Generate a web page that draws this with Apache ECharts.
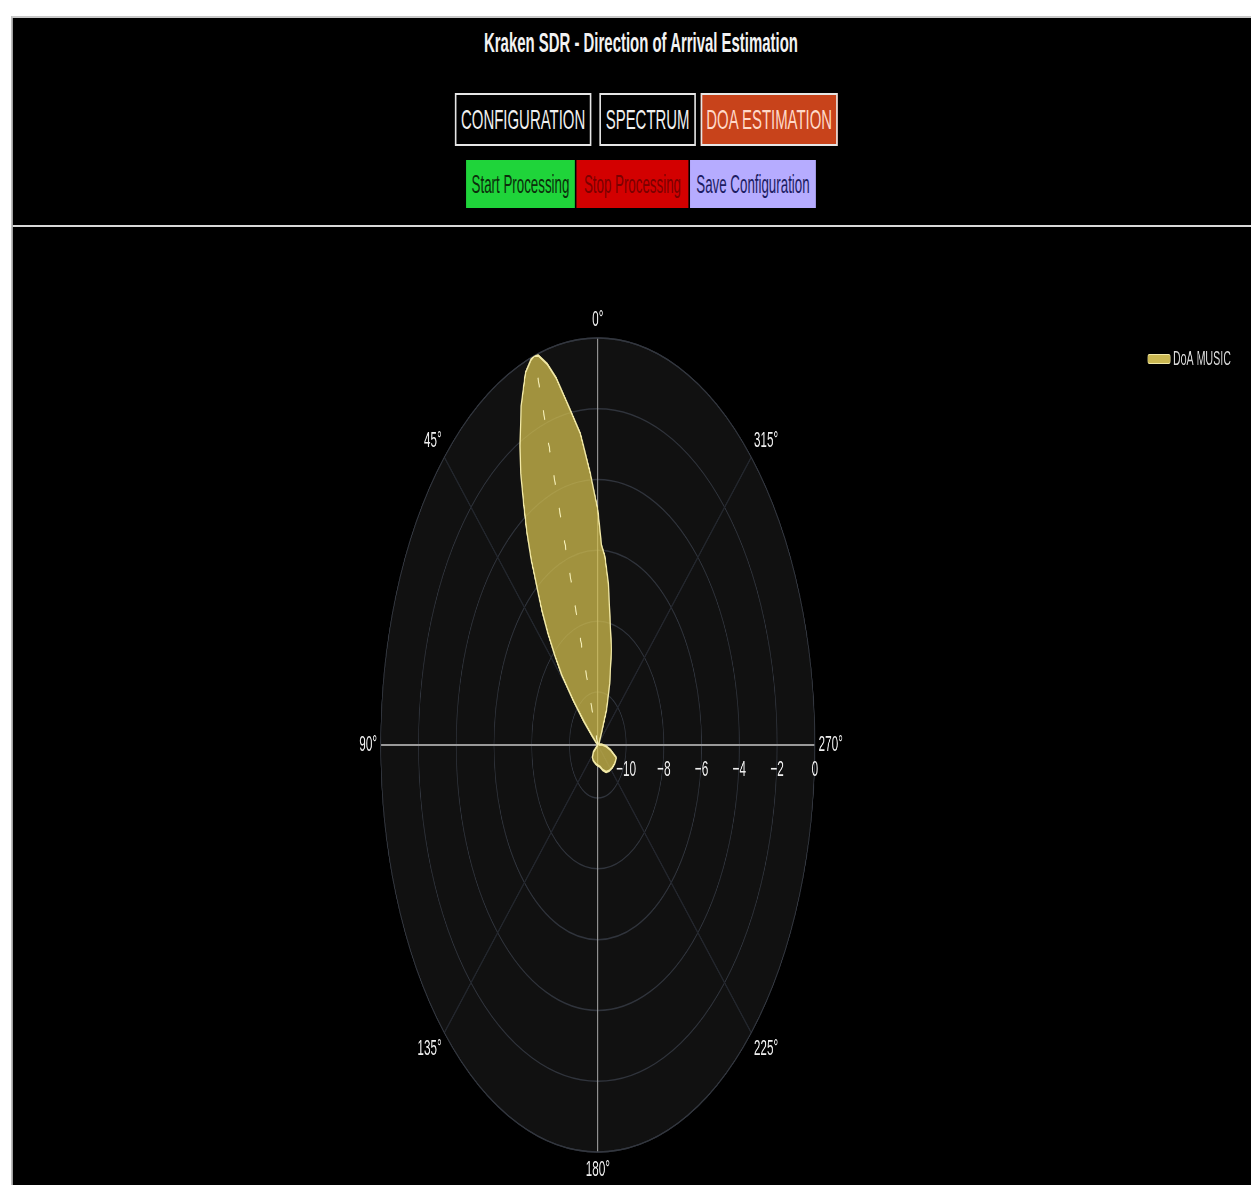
<!DOCTYPE html>
<html>
<head>
<meta charset="utf-8">
<script src="https://cdn.jsdelivr.net/npm/echarts@6/dist/echarts.min.js"></script>
<style>
  html, body { margin:0; padding:0; background:#ffffff; overflow:hidden; width:1251px; height:1185px; }
  #wrap { position:absolute; left:0; top:0; width:2346px; height:1185px; transform:scaleX(0.53325); transform-origin:0 0; font-family:"Liberation Sans", Arial, sans-serif; }
  #panel { position:absolute; left:22px; top:16px; right:0; bottom:0; background:#000; border-left:2px solid #c8c8c8; border-top:2px solid #c8c8c8; }
  #title { position:absolute; left:202px; width:2000px; top:29px; line-height:28px; font-size:28px; font-weight:bold; color:#f2f2f2; text-align:center; white-space:nowrap; }
  .btn { position:absolute; box-sizing:border-box; display:flex; align-items:center; justify-content:center; white-space:nowrap; }
  .b1 { top:93px; height:53px; font-size:28px; border-top:2px solid #e6e6e6; border-bottom:2px solid #e6e6e6; border-left:3px solid #e6e6e6; border-right:3px solid #e6e6e6; color:#f0f0f0; background:#000; }
  .b2 { top:160px; height:48px; font-size:25px; }
  #hr { position:absolute; left:24px; right:0; top:225px; height:2px; background:#d8d8d8; }
  #disc { position:absolute; left:714px; top:338px; width:814px; height:814px; border-radius:50%; background:#111111; }
  #chart { position:absolute; left:0; top:0; width:2346px; height:1185px; }
</style>
</head>
<body>
<div id="wrap">
  <div id="panel"></div>
  <div id="title">Kraken SDR - Direction of Arrival Estimation</div>
  <div class="btn b1" style="left:853px;width:256px;">CONFIGURATION</div>
  <div class="btn b1" style="left:1124px;width:181px;">SPECTRUM</div>
  <div class="btn b1" style="left:1314px;width:257px;background:#c8431b;color:#ffd9c9;">DOA ESTIMATION</div>
  <div class="btn b2" style="left:874px;width:204px;background:#1fd43a;color:#0b2e0b;">Start Processing</div>
  <div class="btn b2" style="left:1081px;width:210px;background:#d30000;color:#7a0000;">Stop Processing</div>
  <div class="btn b2" style="left:1294px;width:236px;background:#b6acff;color:#1c1c62;">Save Configuration</div>
  <div id="hr"></div>
  <div id="disc"></div>
  <div id="chart"></div>
</div>
<script>
// ---- data (angles in degrees, counter-clockwise from north; values in dB) ----
const thetaDeg = [0, 3, 6, 9, 12, 14, 16, 17, 18, 20, 23, 26, 28, 30, 32, 34, 36, 38, 40, 42, 44, 46, 48, 50, 53, 56,
  60, 70, 80, 90, 100, 110, 120, 130, 140, 150, 160, 170, 180, 190, 200, 210, 220, 230, 240, 250, 258, 265,
  275, 285, 295, 305, 315, 320, 325, 330, 335, 340, 345, 350, 353, 356, 358];
const doaDb = [-4.85, -3.8, -2.65, -1.85, -0.9, -0.4, -0.05, 0, -0.05, -0.3, -1.1, -2.1, -2.8, -3.65, -4.4, -5.2, -6.05, -6.7, -7.4, -8.1, -8.75, -9.7, -10.5, -11.1, -11.4, -11.5,
  -11.5, -11.5, -11.5, -11.5, -11.5, -11.5, -11.45, -11.2, -11.05, -11.0, -10.98, -10.95, -10.92, -10.88, -10.75, -10.62, -10.55, -10.5, -10.46, -10.45, -10.8, -11.05,
  -11.3, -11.45, -11.5, -11.5, -11.5, -11.5, -11.45, -11.1, -10.4, -9.65, -8.7, -7.8, -6.9, -6.15, -5.85];
const doaPeakDeg = 17;
const seriesName = 'DoA MUSIC';
const radialMin = -11.5;
const radialMax = 0;
const angleTickStep = 45;

// map compass angle (0..360, CCW from north) to the axis domain [-90, 270)
const toAxis = a => (a > 270 ? a - 360 : a);
const lobe = thetaDeg.map((a, i) => [doaDb[i], toAxis(a)]);
lobe.push(lobe[0]);

const chart = echarts.init(document.getElementById('chart'), null, { renderer: 'canvas' });
const font = '"Liberation Sans", Arial, sans-serif';
chart.setOption({
  backgroundColor: 'transparent',
  animation: false,
  legend: {
    left: 2152, top: 349, padding: 0, itemWidth: 42, itemHeight: 9, itemGap: 6,
    textStyle: { color: '#d8d8d8', fontSize: 20, fontFamily: font },
    data: [{ name: seriesName, icon: 'roundRect', itemStyle: { color: 'rgba(214,194,86,0.95)', borderColor: '#f2e9a8', borderWidth: 1 } }]
  },
  polar: { center: [1121, 745], radius: 407 },
  angleAxis: {
    type: 'value', min: -90, max: 270, interval: angleTickStep, startAngle: 0, clockwise: false,
    axisLine: { show: true, lineStyle: { color: '#33373f', width: 1.5 } },
    axisTick: { show: false },
    axisLabel: { color: '#efefef', fontSize: 22, margin: 7, fontFamily: font,
      formatter: v => (((v % 360) + 360) % 360) + '°' },
    splitLine: { show: true, lineStyle: { color: ['#9a9a9a', '#24272e'], width: 2 } }
  },
  radiusAxis: {
    type: 'value', min: radialMin, max: radialMax, minInterval: 2, maxInterval: 2, splitNumber: 6,
    axisLine: { show: false }, axisTick: { show: false },
    axisLabel: { color: '#efefef', fontSize: 22, margin: -14, verticalAlign: 'top', fontFamily: font,
      formatter: v => Number.isInteger(v) ? (v < 0 ? '\u2212' + (-v) : String(v)) : '' },
    splitLine: { show: true, lineStyle: { color: '#30343c', width: 1.5 } }
  },
  series: [
    {
      name: seriesName, type: 'line', coordinateSystem: 'polar', data: lobe,
      showSymbol: false, silent: true,
      lineStyle: { color: '#f2e9a6', width: 2.5 },
      itemStyle: { color: '#d6c256' },
      areaStyle: { origin: 'start', color: 'rgba(212,192,78,0.74)', opacity: 1 },
      z: 3
    },
    {
      name: 'DOA peak', type: 'line', coordinateSystem: 'polar',
      data: [[radialMin, toAxis(doaPeakDeg)], [radialMax, toAxis(doaPeakDeg)]],
      showSymbol: false, silent: true,
      lineStyle: { color: '#f6f0b8', width: 2, type: [10, 24] },
      z: 4
    }
  ]
});
</script>
</body>
</html>
